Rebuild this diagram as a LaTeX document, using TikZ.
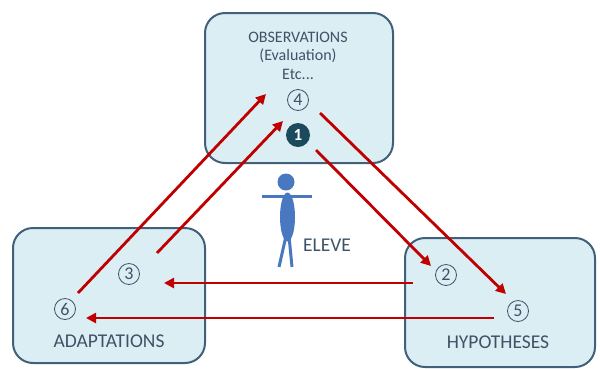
\documentclass[tikz,border=0pt]{standalone}
\usepackage{fontspec}
\setmainfont{Carlito}
\usetikzlibrary{arrows.meta}
\definecolor{boxfill}{HTML}{DBEEF4}
\definecolor{boxline}{HTML}{41607A}
\definecolor{txt}{HTML}{3D5368}
\definecolor{arr}{HTML}{C00000}
\definecolor{fig}{HTML}{4A78C0}
\definecolor{dark}{HTML}{1B4A5C}
\tikzset{
  panel/.style={draw=boxline, fill=boxfill, line width=2pt, rounded corners=20pt, inner sep=0pt},
  lbl/.style={text=txt, inner sep=0pt, font=\fontsize{19.5}{21}\selectfont},
  small/.style={text=txt, inner sep=0pt, font=\fontsize{16}{18}\selectfont, align=center},
  num/.style={circle, draw=txt, line width=0.8pt, minimum size=21pt, inner sep=0pt, text=txt, font=\fontsize{18}{18}\selectfont},
  darknum/.style={circle, fill=dark, minimum size=24pt, inner sep=0pt, text=white, font=\bfseries\fontsize{17}{17}\selectfont},
  link/.style={draw=arr, line width=2.8pt, -{Triangle[length=10pt,width=10pt]}},
  limb/.style={draw=fig, line width=3pt}
}
\begin{document}
\begin{tikzpicture}[x=1pt,y=-1pt]
\useasboundingbox (0,0) rectangle (600,368);
% boxes
\draw[panel] (205,13) rectangle (393,163);
\draw[panel] (13,228) rectangle (205,363);
\draw[panel] (405,238) rectangle (595,367);
% texts top
\node[small] (obs) at (298,37) {OBSERVATIONS};
\node[small] (eval) at (298,56) {(Evaluation)};
\node[small] (etc) at (298,74) {Etc...};
\node[num] (n4) at (298,100) {4};
\node[darknum] (n1) at (298,135) {1};
% left box
\node[num] (n3) at (129,274) {3};
\node[num] (n6) at (65,309) {6};
\node[lbl] (adapt) at (109,341) {ADAPTATIONS};
% right box
\node[num] (n2) at (446,275) {2};
\node[num] (n5) at (518,311) {5};
\node[lbl] (hyp) at (498,342) {HYPOTHESES};
% figure
\draw[limb] (262,196) -- (312,196);
\draw[limb] (286,236) -- (279,267);
\draw[limb] (289,236) -- (292,267);
\fill[fig] (287.5,217) ellipse (7.5 and 24.5);
\fill[fig] (286,182) circle (8.5);
\node[lbl] (eleve) at (327,245) {ELEVE};
% arrow endpoints
\coordinate (a1s) at (78,293);   \coordinate (a1e) at (266,94);
\coordinate (a2s) at (157,253);  \coordinate (a2e) at (283,121);
\coordinate (a3s) at (320,113);  \coordinate (a3e) at (506,294);
\coordinate (a4s) at (316,150);  \coordinate (a4e) at (431,266);
\coordinate (a5s) at (413,283);  \coordinate (a5e) at (164,283);
\coordinate (a6s) at (494,318);  \coordinate (a6e) at (86,318);
\draw[link] (a1s) -- (a1e);
\draw[link] (a2s) -- (a2e);
\draw[link] (a3s) -- (a3e);
\draw[link] (a4s) -- (a4e);
\draw[link] (a5s) -- (a5e);
\draw[link] (a6s) -- (a6e);
\end{tikzpicture}
\end{document}
